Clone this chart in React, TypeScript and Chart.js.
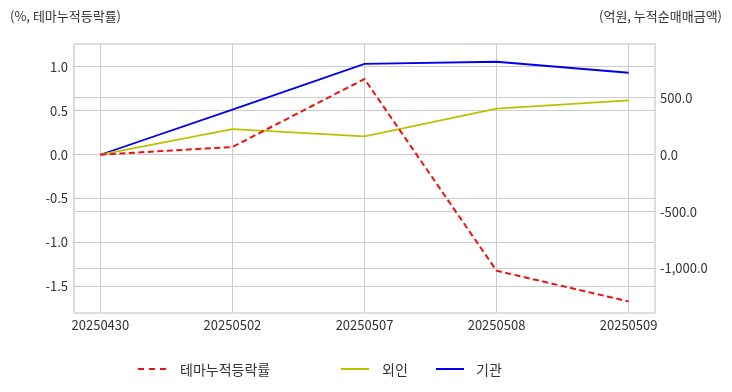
import React, { useEffect, useRef } from "react";
import { Chart, registerables } from "chart.js";

Chart.register(...registerables);

const categories = ["20250430", "20250502", "20250507", "20250508", "20250509"];
const themeReturn = [0, 0.088, 0.863, -1.323, -1.673];
const foreignNet = [0, 226, 161, 405, 478];
const institutionNet = [0, 396, 800, 818, 721];

const leftTicks = [-1.5, -1.0, -0.5, 0, 0.5, 1.0];
const rightTicks = [-1000, -500, 0, 500];

const leftTitle = "(%, 테마누적등락률)";
const rightTitle = "(억원, 누적순매매금액)";
const seriesNames = ["테마누적등락률", "외인", "기관"];

const FONT = "'Noto Sans CJK KR', 'Noto Sans', sans-serif";
const TEXT = "#333333";
const GRID = "#cccccc";

const framePlugin = {
  id: "frame",
  afterDraw(chart: any) {
    const { ctx, chartArea } = chart;
    ctx.save();
    ctx.strokeStyle = "#d4d4d4";
    ctx.lineWidth = 1.5;
    ctx.strokeRect(chartArea.left, chartArea.top, chartArea.right - chartArea.left, chartArea.bottom - chartArea.top);
    ctx.restore();
  },
};

export default function App() {
  const ref = useRef<HTMLCanvasElement>(null);
  useEffect(() => {
    const toPts = (arr: number[]) => arr.map((v, i) => ({ x: i, y: v }));
    const chart = new Chart(ref.current!, {
      type: "line",
      data: {
        datasets: [
          {
            label: seriesNames[0],
            data: toPts(themeReturn),
            borderColor: "#ee1111",
            borderDash: [6, 3.5],
            borderWidth: 2,
            pointRadius: 0,
            yAxisID: "y",
            tension: 0,
          },
          {
            label: seriesNames[1],
            data: toPts(foreignNet),
            borderColor: "#bfbf00",
            borderWidth: 1.8,
            pointRadius: 0,
            yAxisID: "y1",
            tension: 0,
          },
          {
            label: seriesNames[2],
            data: toPts(institutionNet),
            borderColor: "#0000ee",
            borderWidth: 1.8,
            pointRadius: 0,
            yAxisID: "y1",
            tension: 0,
          },
        ],
      },
      options: {
        animation: false,
        responsive: false,
        maintainAspectRatio: false,
        layout: { padding: { top: 44, bottom: 49, left: 0, right: 0 } },
        plugins: { legend: { display: false }, tooltip: { enabled: false } },
        scales: {
          x: {
            type: "linear",
            min: -0.2,
            max: 4.2,
            border: { display: false },
            grid: { color: GRID, lineWidth: 1, drawTicks: false },
            afterBuildTicks: (s: any) => {
              s.ticks = categories.map((_, i) => ({ value: i }));
            },
            ticks: {
              padding: 4,
              maxRotation: 0,
              autoSkip: false,
              color: TEXT,
              font: { family: FONT, size: 13 },
              callback: (v: any) => categories[Math.round(v)] ?? "",
            },
            afterFit: (s: any) => {
              s.height = 30;
            },
          },
          y: {
            position: "left",
            min: -1.805,
            max: 1.262,
            border: { display: false },
            grid: { color: GRID, lineWidth: 1, drawTicks: false },
            afterBuildTicks: (s: any) => {
              s.ticks = leftTicks.map((v) => ({ value: v }));
            },
            ticks: {
              padding: 6,
              color: TEXT,
              font: { family: FONT, size: 13 },
              callback: (v: any) => Number(v).toFixed(1),
            },
            afterFit: (s: any) => {
              s.width = 74;
            },
          },
          y1: {
            position: "right",
            min: -1392,
            max: 974,
            border: { display: false },
            grid: { color: GRID, lineWidth: 1, drawTicks: false },
            afterBuildTicks: (s: any) => {
              s.ticks = rightTicks.map((v) => ({ value: v }));
            },
            ticks: {
              padding: 5,
              color: TEXT,
              font: { family: FONT, size: 13 },
              callback: (v: any) =>
                Number(v).toLocaleString("en-US", { minimumFractionDigits: 1, maximumFractionDigits: 1 }),
            },
            afterFit: (s: any) => {
              s.width = 77;
            },
          },
        },
      },
      plugins: [framePlugin],
    } as any);
    return () => chart.destroy();
  }, []);

  const textStyle: React.CSSProperties = {
    position: "absolute",
    fontFamily: FONT,
    fontSize: 13,
    color: TEXT,
    whiteSpace: "nowrap",
    lineHeight: "16px",
  };

  const legendLine = (left: number, color: string, dashed: boolean): React.CSSProperties => ({
    position: "absolute",
    left,
    top: 368,
    width: 28,
    height: 0,
    borderTop: dashed ? `2px dashed ${color}` : `2px solid ${color}`,
  });

  return (
    <div style={{ position: "fixed", left: 0, top: 0, width: 732, height: 392, background: "#fff" }}>
      <canvas ref={ref} width={732} height={392} style={{ position: "absolute", left: 0, top: 0 }} />
      <div style={{ ...textStyle, left: 10, top: 8 }}>{leftTitle}</div>
      <div style={{ ...textStyle, right: 10, top: 8 }}>{rightTitle}</div>
      <div style={legendLine(138, "#ee1111", true)} />
      <div style={{ ...textStyle, left: 180, top: 361, fontSize: 14 }}>{seriesNames[0]}</div>
      <div style={legendLine(341, "#bfbf00", false)} />
      <div style={{ ...textStyle, left: 382, top: 361, fontSize: 14 }}>{seriesNames[1]}</div>
      <div style={legendLine(436, "#0000ee", false)} />
      <div style={{ ...textStyle, left: 476, top: 361, fontSize: 14 }}>{seriesNames[2]}</div>
    </div>
  );
}
